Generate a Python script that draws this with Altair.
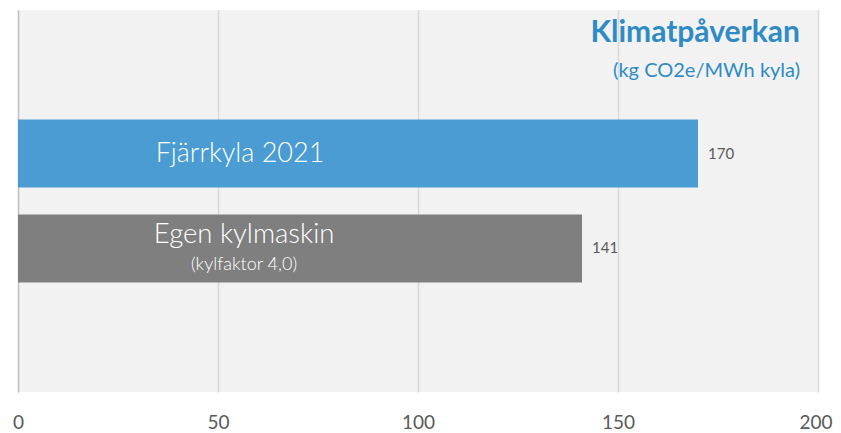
import altair as alt
import pandas as pd

categories = ["Fjärrkyla 2021", "Egen kylmaskin"]
values = [170, 141]
colors = ["#4a9cd3", "#7f7f7f"]
value_labels = ["170", "141"]
sub_labels = ["", "(kylfaktor 4,0)"]
x_ticks = [0, 50, 100, 150, 200]
title_text = "Klimatpåverkan"
subtitle_text = "(kg CO2e/MWh kyla)"

df = pd.DataFrame({
    "cat": categories,
    "val": values,
    "color": colors,
    "vlabel": value_labels,
    "sub": sub_labels,
})

FONT = "Lato"

yenc = alt.Y("cat:N", axis=None,
             scale=alt.Scale(domain=["_top"] + categories + ["_bottom"],
                             paddingInner=0.284, paddingOuter=0.153))

base = alt.Chart(df)

bars = base.mark_bar().encode(
    x=alt.X("val:Q", scale=alt.Scale(domain=[0, 200], nice=False),
            axis=alt.Axis(values=x_ticks, title=None, domain=False, ticks=False,
                          labelFontSize=19, labelColor="#595959", labelFont=FONT,
                          labelPadding=21, labelFlush=False,
                          labelAlign=alt.condition("datum.value === 200", alt.value("right"), alt.value("center")),
                          labelOffset=alt.condition("datum.value === 200", alt.value(14), alt.value(0)),
                          grid=True,
                          gridColor=alt.condition("datum.value === 0", alt.value("#bfbfbf"), alt.value("#d9d9d9")),
                          gridWidth=1.5)),
    y=yenc,
    color=alt.Color("color:N", scale=None),
)

vals = base.mark_text(align="left", baseline="middle", dx=10, fontSize=15,
                      color="#595959", font=FONT).encode(
    x="val:Q", y=yenc, text="vlabel:N")

first = df[df["sub"] == ""]
second = df[df["sub"] != ""]

name1 = alt.Chart(first).mark_text(align="center", baseline="middle", fontSize=27,
                                    color="white", font=FONT, fontWeight=300).encode(
    x=alt.datum(55.5), y=yenc, text="cat:N")
name2 = alt.Chart(second).mark_text(align="center", baseline="middle", fontSize=27.5,
                                     color="white", font=FONT, fontWeight=300, dy=-13).encode(
    x=alt.datum(56.5), y=yenc, text="cat:N")
sub2 = alt.Chart(second).mark_text(align="center", baseline="middle", fontSize=18,
                                    color="white", font=FONT, fontWeight=300, dy=17).encode(
    x=alt.datum(56.5), y=yenc, text="sub:N")

titles = pd.DataFrame({"t": [title_text, subtitle_text],
                       "k": ["title", "sub"]})
title = alt.Chart(titles).transform_filter("datum.k == 'title'").mark_text(
    align="right", baseline="middle", fontSize=30, fontWeight="bold",
    color="#2e8bc4", font=FONT).encode(x=alt.datum(195.5), y=alt.value(23), text="t:N")
subtitle = alt.Chart(titles).transform_filter("datum.k == 'sub'").mark_text(
    align="right", baseline="middle", fontSize=20,
    color="#2e8bc4", font=FONT).encode(x=alt.datum(195.5), y=alt.value(61), text="t:N")

chart = alt.layer(bars, vals, name1, name2, sub2, title, subtitle).properties(
    width=800, height=382,
    autosize=alt.AutoSizeParams(type="none"),
    padding={"left": 10, "top": 2, "right": 15, "bottom": 41},
    background="white",
).configure_view(fill="#f2f2f2", stroke=None)

chart.save("out.html", embed_options={"renderer": "svg", "actions": False})
